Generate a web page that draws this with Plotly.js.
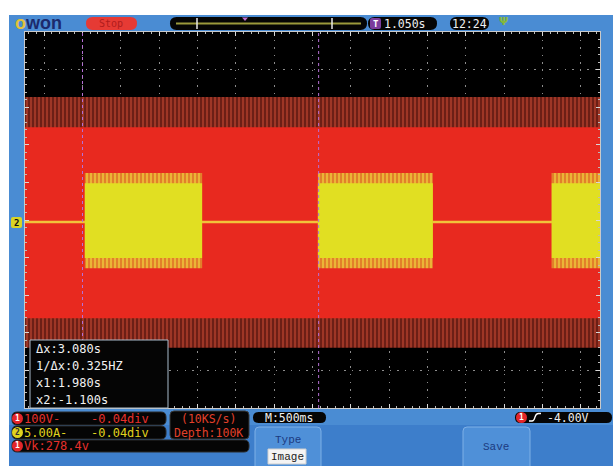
<!DOCTYPE html>
<html><head><meta charset="utf-8">
<script src="https://cdn.plot.ly/plotly-3.0.1.min.js"></script>
<style>html,body{margin:0;padding:0;background:#fff;overflow:hidden}#chart{width:613px;height:466px}</style>
</head><body><div id="chart"></div>
<script>
// ---------- data ----------
// horizontal: seconds, 500 ms / div, 15 div visible
const timeEdges = [-1.85, 5.65];
// CH1 (red, 100 V/div) envelope in divisions: outer top, inner top, inner bottom, outer bottom
const ch1Envelope = [3.27, 2.47, -2.61, -3.40];
// CH2 (yellow, 5.00 A/div)
const ch2Baseline = [-0.05, -0.05];
const burstStart = [-1.07, 1.97, 5.02];
const burstEnd = [0.46, 3.47, 5.65];
const ch2Envelope = [1.25, 0.98, -1.01, -1.28];
// cursors
const cursorTimes = [-1.10, 1.98];
const cursorLines = ["Δx:3.080s", "1/Δx:0.325HZ", "x1:1.980s", "x2:-1.100s"];
const ch1Info = ["100V-", "-0.04div"];
const ch2Info = ["5.00A-", "-0.04div"];
const vkInfo = "Vk:278.4v";
const sampleInfo = ["(10KS/s)", "Depth:100K"];
const timebase = "M:500ms";
const triggerInfo = "-4.00V";
const triggerDelay = "1.050s";
const clock = "12:24";

// ---------- geometry helpers ----------
const ML = 25, MR = 13, MT = 32, MB = 58, PW = 613 - ML - MR, PH = 466 - MT - MB;
const X = p => (p - ML) / PW;
const Y = p => 1 - (p - MT) / PH;
const MONO = "DejaVu Sans Mono";

function rectsXY(starts, ends, top, bot) {
  const xs = [], ys = [];
  starts.forEach((s, i) => {
    const e = ends[i];
    xs.push(s, e, e, s, s, null);
    ys.push(top, top, bot, bot, top, null);
  });
  return {x: xs, y: ys};
}

const outer = rectsXY([timeEdges[0]], [timeEdges[1]], ch1Envelope[0], ch1Envelope[3]);
const inner = rectsXY([timeEdges[0]], [timeEdges[1]], ch1Envelope[1], ch1Envelope[2]);
const fringe = rectsXY(burstStart, burstEnd, ch2Envelope[0], ch2Envelope[3]);
const body = rectsXY(burstStart, burstEnd, ch2Envelope[1], ch2Envelope[2]);

const traces = [
  {x: outer.x, y: outer.y, type: 'scatter', mode: 'lines', fill: 'toself', line: {width: 0},
   fillcolor: '#6c1f16', fillpattern: {shape: '|', fgcolor: '#b4402c', bgcolor: '#6c1f16', size: 4, solidity: 0.35}},
  {x: inner.x, y: inner.y, type: 'scatter', mode: 'lines', fill: 'toself', line: {width: 0}, fillcolor: '#e8291f'},
  {x: timeEdges, y: ch2Baseline, type: 'scatter', mode: 'lines', line: {color: '#f2c23a', width: 2.5}},
  {x: fringe.x, y: fringe.y, type: 'scatter', mode: 'lines', fill: 'toself', line: {width: 0},
   fillcolor: '#e58a2a', fillpattern: {shape: '|', fgcolor: '#eec13a', bgcolor: '#e2802a', size: 4, solidity: 0.4}},
  {x: body.x, y: body.y, type: 'scatter', mode: 'lines', fill: 'toself', line: {width: 0}, fillcolor: '#e1df22'}
];

function rr(x0, y0, x1, y1, r, fill, line, lw) {
  const p = `M ${X(x0 + r)},${Y(y0)} L ${X(x1 - r)},${Y(y0)} Q ${X(x1)},${Y(y0)} ${X(x1)},${Y(y0 + r)} ` +
    `L ${X(x1)},${Y(y1 - r)} Q ${X(x1)},${Y(y1)} ${X(x1 - r)},${Y(y1)} L ${X(x0 + r)},${Y(y1)} ` +
    `Q ${X(x0)},${Y(y1)} ${X(x0)},${Y(y1 - r)} L ${X(x0)},${Y(y0 + r)} Q ${X(x0)},${Y(y0)} ${X(x0 + r)},${Y(y0)} Z`;
  return {type: 'path', xref: 'paper', yref: 'paper', path: p, fillcolor: fill,
    line: {color: line || fill, width: lw === undefined ? (line ? 1 : 0) : lw}, layer: 'above'};
}
function box(x0, y0, x1, y1, fill, line, lw) {
  return {type: 'rect', xref: 'paper', yref: 'paper', x0: X(x0), x1: X(x1), y0: Y(y0), y1: Y(y1),
    fillcolor: fill, line: {color: line || fill, width: lw || 0}, layer: 'above'};
}
function circ(cx, cy, r, fill) {
  return {type: 'circle', xref: 'paper', yref: 'paper', x0: X(cx - r), x1: X(cx + r), y0: Y(cy - r), y1: Y(cy + r),
    fillcolor: fill, line: {width: 0}, layer: 'above'};
}
function seg(x0, y0, x1, y1, color, w) {
  return {type: 'line', xref: 'paper', yref: 'paper', x0: X(x0), x1: X(x1), y0: Y(y0), y1: Y(y1),
    line: {color: color, width: w}, layer: 'above'};
}
function txt(x, y, text, color, size, anchor, family, weight) {
  return {xref: 'paper', yref: 'paper', x: X(x), y: Y(y), text: text, showarrow: false,
    xanchor: anchor || 'left', yanchor: 'middle', borderpad: 0,
    font: {color: color, size: size, family: family || MONO, weight: weight || 'normal'}};
}

const shapes = [];
// white page margins
shapes.push(box(-30, -5, 650, 15, '#ffffff'));
shapes.push(box(-30, -5, 9, 480, '#ffffff'));
// darker lower band
shapes.push(box(9, 425, 620, 470, '#3d7ecb'));
// cursors
cursorTimes.forEach(t => shapes.push({type: 'line', xref: 'x', yref: 'paper', x0: t, x1: t, y0: 0, y1: 1,
  line: {color: '#b56fd6', width: 1, dash: 'dot'}, layer: 'above'}));
// header
shapes.push(rr(86, 17, 137, 30, 6.5, '#e63a34'));
shapes.push(rr(170, 17, 367, 30, 6.5, '#050505'));
shapes.push(seg(176, 23.5, 361, 23.5, '#9c9a3c', 2));
shapes.push(seg(197, 18, 197, 29, '#e8e8e8', 1.5));
shapes.push(seg(332, 18, 332, 29, '#e8e8e8', 1.5));
shapes.push({type: 'path', xref: 'paper', yref: 'paper', path: `M ${X(242)},${Y(17.5)} L ${X(248)},${Y(17.5)} L ${X(245)},${Y(21)} Z`,
  fillcolor: '#c070d0', line: {width: 0}, layer: 'above'});
shapes.push(rr(368, 17, 437, 30, 6.5, '#050505'));
shapes.push(rr(370, 18, 381, 29, 2, '#7a3c9c'));
shapes.push(rr(450, 17, 489, 30, 6.5, '#050505'));
// channel 2 marker on the left
shapes.push(rr(11, 217, 22, 228, 2, '#d8d424'));
// cursor readout box
shapes.push(box(30, 340, 168, 408, '#050505', '#a9bccc', 1));
// bottom channel rows
shapes.push(rr(12, 412, 166, 425, 5, '#050505', '#2a2a2a'));
shapes.push(rr(12, 426, 166, 439, 5, '#050505', '#2a2a2a'));
shapes.push(rr(12, 440, 249, 452, 5, '#050505', '#2a2a2a'));
shapes.push(rr(170, 411, 249, 439, 4, '#050505', '#3a3a3a'));
shapes.push(circ(17.5, 418.5, 5.5, '#e3262a'));
shapes.push(circ(17.5, 432.5, 5.5, '#e0d21e'));
shapes.push(circ(17.5, 446, 5.5, '#e3262a'));
// timebase pill
shapes.push(rr(253, 412, 326, 423, 5.5, '#050505'));
// buttons
shapes.push(rr(255, 427, 321, 470, 4, '#4f90d8', '#7fb0e6', 1));
shapes.push(box(268, 449, 306, 464, '#f4f4f4', '#cfcfcf', 1));
shapes.push(rr(463, 427, 530, 470, 4, '#4f90d8', '#7fb0e6', 1));
// trigger pill
shapes.push(rr(515, 412, 612, 423, 5.5, '#050505'));
shapes.push(circ(521.5, 417.5, 5.5, '#e3262a'));
shapes.push({type: 'path', xref: 'paper', yref: 'paper',
  path: `M ${X(529)},${Y(421)} L ${X(532)},${Y(421)} Q ${X(534)},${Y(421)} ${X(535)},${Y(417)} Q ${X(536)},${Y(413.5)} ${X(538.5)},${Y(413.5)} L ${X(541)},${Y(413.5)}`,
  line: {color: '#ffffff', width: 1.3}, layer: 'above'});

const ann = [];
ann.push(txt(14, 23, "<span style='color:#e2c23a'>o</span>won", '#1c2a6c', 18, 'left', 'Liberation Sans', 'bold'));
ann.push(txt(111, 23.5, 'Stop', '#b01c1c', 10, 'center'));
ann.push(txt(375.5, 23.5, 'T', '#ffffff', 9, 'center', MONO, 'bold'));
ann.push(txt(383, 23.5, triggerDelay, '#f0f0f0', 11.5, 'left'));
ann.push(txt(469.5, 23.5, clock, '#f0f0f0', 11.5, 'center'));
ann.push(txt(503, 22, 'Ψ', '#86b83a', 11, 'center', 'DejaVu Sans', 'bold'));
ann.push(txt(16.5, 222.5, '2', '#111111', 9, 'center', MONO, 'bold'));
// cursor readouts
[349, 365.5, 383, 400].forEach((yy, i) => ann.push(txt(35, yy, cursorLines[i], '#f2f2f2', 12, 'left')));
// channel rows
ann.push(txt(17.5, 418.5, '1', '#ffffff', 8, 'center', MONO, 'bold'));
ann.push(txt(17.5, 432.5, '2', '#333333', 8, 'center', MONO, 'bold'));
ann.push(txt(17.5, 446, '1', '#ffffff', 8, 'center', MONO, 'bold'));
ann.push(txt(23, 418.5, ch1Info[0], '#e6302c', 12, 'left'));
ann.push(txt(90, 418.5, ch1Info[1], '#e6302c', 12, 'left'));
ann.push(txt(23, 432.5, ch2Info[0], '#e0d21e', 12, 'left'));
ann.push(txt(90, 432.5, ch2Info[1], '#e0d21e', 12, 'left'));
ann.push(txt(23, 446, vkInfo, '#e6302c', 12, 'left'));
ann.push(txt(208, 418.5, sampleInfo[0], '#e2402a', 11.5, 'center'));
ann.push(txt(208, 432.5, sampleInfo[1], '#e2402a', 11.5, 'center'));
ann.push(txt(289, 417.5, timebase, '#f0f0f0', 11.5, 'center'));
ann.push(txt(288, 440, 'Type', '#1c3a80', 11, 'center', 'Liberation Mono'));
ann.push(txt(287, 456.5, 'Image', '#222222', 11, 'center', 'Liberation Mono'));
ann.push(txt(496, 447, 'Save', '#1c3a80', 11, 'center', 'Liberation Mono'));
ann.push(txt(521.5, 417.5, '1', '#ffffff', 8, 'center', MONO, 'bold'));
ann.push(txt(546, 417.5, triggerInfo, '#f0f0f0', 11.5, 'left'));

const axCommon = {showticklabels: false, zeroline: false, showline: true, linecolor: '#c9c9c9', linewidth: 1,
  mirror: 'ticks', ticks: 'inside', ticklen: 4, tickcolor: '#d8d8d8', tickwidth: 1,
  showgrid: true, gridcolor: '#8c8c8c', gridwidth: 1, griddash: '1.3px,6.3px', fixedrange: true};

const layout = {
  width: 613, height: 466, margin: {l: ML, r: MR, t: MT, b: MB, pad: 0},
  paper_bgcolor: '#4a8cd3', plot_bgcolor: '#000000', showlegend: false,
  xaxis: Object.assign({}, axCommon, {range: timeEdges, tick0: 1.9, dtick: 0.5,
    minor: {ticks: 'inside', ticklen: 2, tickcolor: '#bbbbbb', dtick: 0.1, tick0: 1.9, showgrid: false}}),
  yaxis: Object.assign({}, axCommon, {range: [-5, 5], tick0: 0, dtick: 1,
    minor: {ticks: 'inside', ticklen: 2, tickcolor: '#bbbbbb', dtick: 0.2, tick0: 0, showgrid: false}}),
  shapes: shapes, annotations: ann
};

Plotly.newPlot('chart', traces, layout, {staticPlot: true, displayModeBar: false});
</script>
</body></html>
